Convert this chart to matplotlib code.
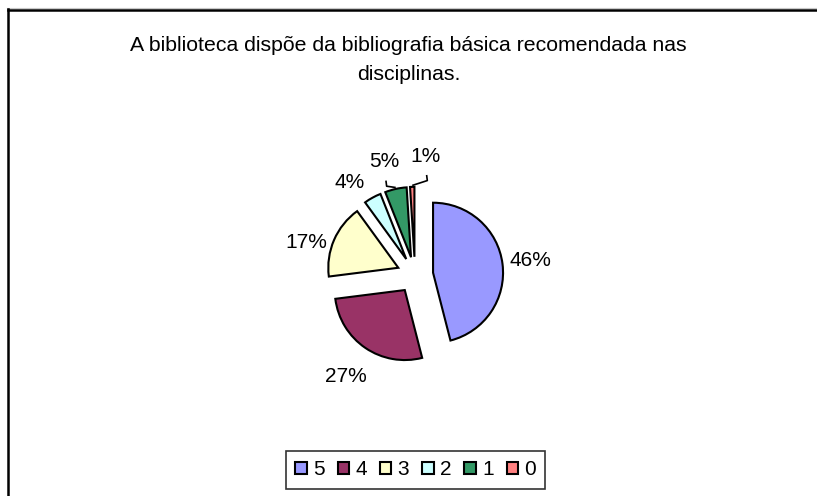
import matplotlib
matplotlib.use("Agg")
import matplotlib.pyplot as plt
from matplotlib.patches import Patch
from matplotlib.lines import Line2D
import numpy as np

plt.rcParams['font.family'] = ['Liberation Sans', 'DejaVu Sans']

title = "A biblioteca dispõe da bibliografia básica recomendada nas\ndisciplinas."
categories = ["5", "4", "3", "2", "1", "0"]
values = [46, 27, 17, 4, 5, 1]
colors = ["#9999FF", "#993366", "#FFFFCC", "#CCFFFF", "#339966", "#FF8080"]

W, H = 817, 496
fig = plt.figure(figsize=(W / 100, H / 100), dpi=100)
R = 70.0  # pixels per unit radius
cx, cy = 415.0, 275.0
ax = fig.add_axes([0, 0, 1, 1])

explode = [0.26] * len(values)
wedges, _ = ax.pie(values, colors=colors, startangle=90, counterclock=False,
                   explode=explode, radius=1.0, frame=False,
                   wedgeprops=dict(edgecolor="black", linewidth=1.5))

# layout tweaks for label placement (radial distance, nudge in radius units)
label_dist = [1.4, 1.5, 1.4, 1.4, 1.46, 1.46]
label_nudge = [(0.0, 0.0), (0.0, 0.0), (-0.03, -0.19), (-0.14, -0.13),
               (-0.06, -0.06), (0.2, -0.02)]
leader = [False, False, False, False, True, True]

total = float(sum(values))
cum = 0.0
for i, v in enumerate(values):
    mid = (cum + v / 2.0) / total
    cum += v
    th = np.deg2rad(90 - 360 * mid)
    ex = explode[i]
    ox, oy = ex * np.cos(th), ex * np.sin(th)
    d = label_dist[i]
    lx = ox + d * np.cos(th) + label_nudge[i][0]
    ly = oy + d * np.sin(th) + label_nudge[i][1]
    if leader[i]:
        edge_x, edge_y = ox + 1.0 * np.cos(th), oy + 1.0 * np.sin(th)
        sx, sy = lx + 0.02, ly - 0.27
        ax.plot([sx, sx + 0.01, edge_x], [sy, sy - 0.08, edge_y + 0.02],
                color="black", lw=1.2, solid_capstyle="butt")
    ax.text(lx, ly, f"{v}%", ha="center", va="center", fontsize=15)

ax.set_aspect("auto")
ax.set_xlim(-cx / R, (W - cx) / R)
ax.set_ylim(-(H - cy) / R, cy / R)
ax.axis("off")

fig.text(0.5, 1 - 60 / H, title, ha="center", va="center", fontsize=15.3,
         linespacing=1.65)

handles = [Patch(facecolor=c, edgecolor="black", linewidth=1.5) for c in colors]
leg = fig.legend(handles, categories, loc="upper left",
                 bbox_to_anchor=(286 / W, 1 - 451 / H), ncol=6, fontsize=15,
                 frameon=True, fancybox=False, handlelength=0.55,
                 handleheight=0.55, handletextpad=0.3, columnspacing=0.62,
                 borderpad=0.45, borderaxespad=0)
leg.get_frame().set_edgecolor("black")
leg.get_frame().set_linewidth(1.2)

# outer frame (left and top only are visible)
fig.add_artist(Line2D([7 / W, 1], [1 - 7.5 / H, 1 - 7.5 / H], color="#c8c8c8",
                      lw=0.8, transform=fig.transFigure))
fig.add_artist(Line2D([8 / W, 8 / W], [0, 1 - 9 / H], color="black", lw=1.8,
                      transform=fig.transFigure))
fig.add_artist(Line2D([8 / W, 1], [1 - 10 / H, 1 - 10 / H], color="black",
                      lw=1.8, transform=fig.transFigure))

fig.savefig("out.png", dpi=100, facecolor="white")
